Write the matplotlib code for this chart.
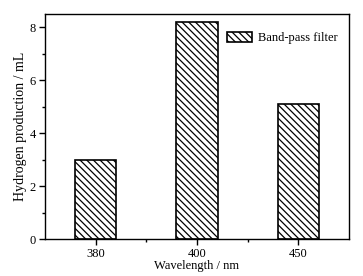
import matplotlib.pyplot as plt
from matplotlib.ticker import MultipleLocator, FixedLocator

plt.rcParams['font.family'] = ['Liberation Serif', 'DejaVu Serif']
plt.rcParams['hatch.linewidth'] = 0.9

wavelengths = ['380', '400', '450']
hydrogen = [3.0, 8.2, 5.1]

fig = plt.figure(figsize=(3.63, 2.76), dpi=100)
ax = fig.add_axes([45 / 363, 1 - 239 / 276, 304 / 363, 225 / 276])

x = list(range(len(wavelengths)))
ax.bar(x, hydrogen, width=0.41, color='white', edgecolor='black',
       linewidth=1.2, hatch='\\\\\\\\\\', label='Band-pass filter')

ax.set_xlim(-0.5, 2.5)
ax.set_ylim(0, 8.5)
ax.set_xticks(x)
ax.set_xticklabels(wavelengths)
ax.xaxis.set_minor_locator(FixedLocator([0.5, 1.5]))
ax.yaxis.set_major_locator(MultipleLocator(2))
ax.yaxis.set_minor_locator(MultipleLocator(1))

ax.tick_params(which='both', direction='out', labelsize=9, width=1, pad=2.5)
ax.tick_params(which='major', length=4)
ax.tick_params(which='minor', length=2.5)
for s in ax.spines.values():
    s.set_linewidth(1)

ax.set_xlabel('Wavelength / nm', fontsize=9, labelpad=0)
ax.set_ylabel('Hydrogen production / mL', fontsize=10, labelpad=2)

ax.legend(loc='upper right', frameon=False, fontsize=9,
          handlelength=2.0, handleheight=0.9, handletextpad=0.5,
          bbox_to_anchor=(1.0, 0.97))

fig.savefig('out.png', dpi=100)
